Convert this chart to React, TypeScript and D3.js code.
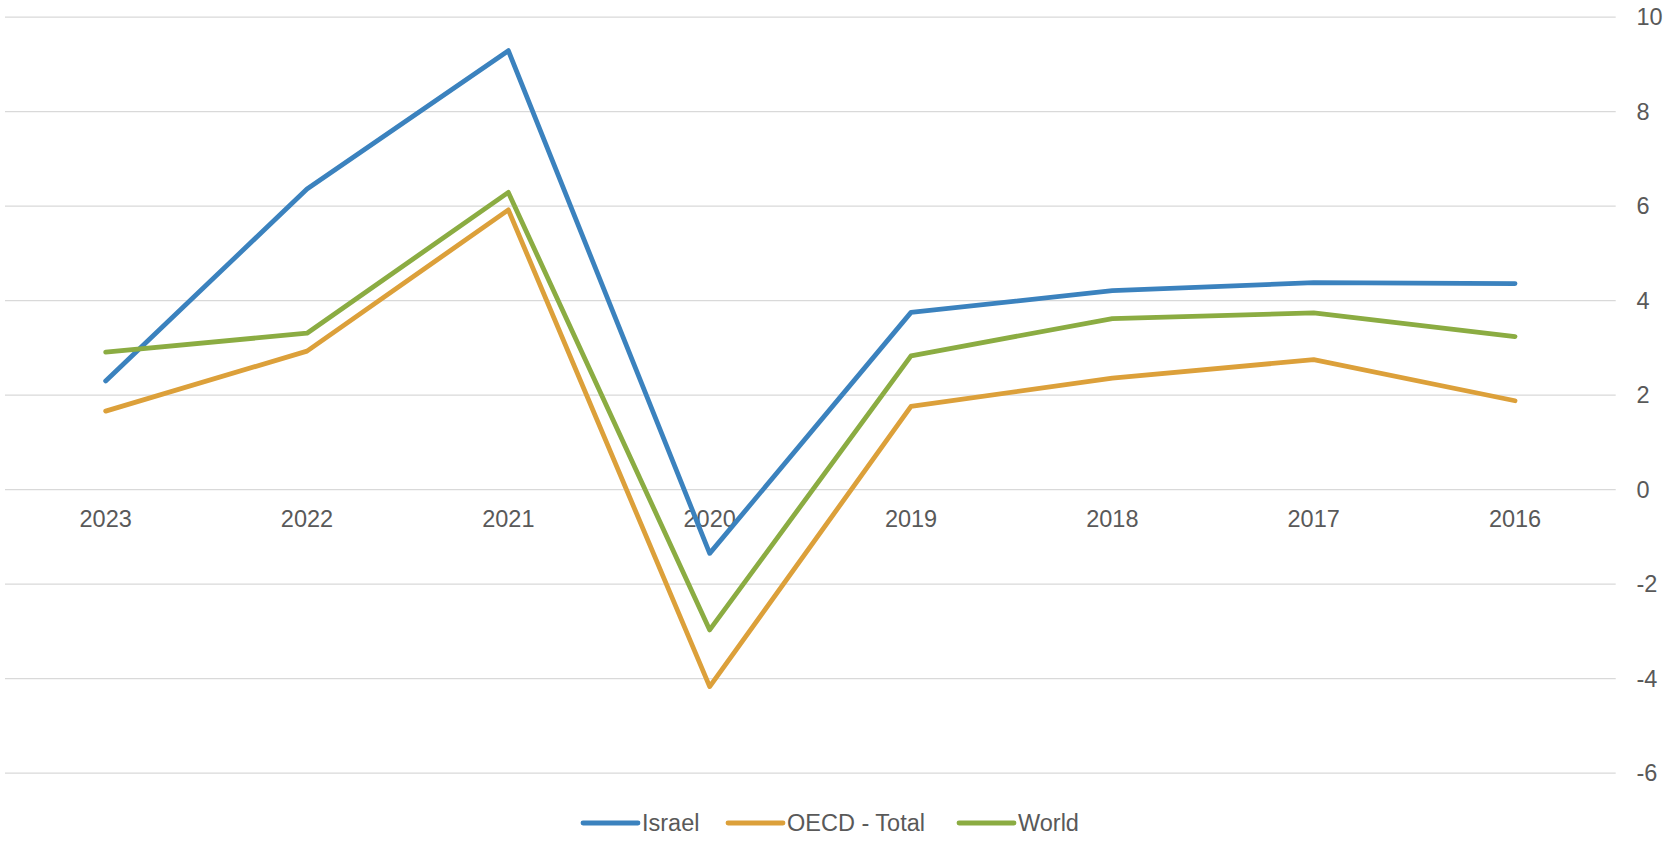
import React from "react";
import * as d3 from "d3";

// values
const years = ["2023", "2022", "2021", "2020", "2019", "2018", "2017", "2016"];
const israel = [2.3, 6.36, 9.29, -1.35, 3.75, 4.21, 4.38, 4.36];
const oecd = [1.66, 2.93, 5.92, -4.17, 1.76, 2.36, 2.75, 1.88];
const world = [2.91, 3.31, 6.29, -2.97, 2.83, 3.62, 3.74, 3.24];
const yTicks = [-6, -4, -2, 0, 2, 4, 6, 8, 10];

const seriesNames = ["Israel", "OECD - Total", "World"];
const seriesColors = ["#3b82be", "#dca03a", "#8bac42"];

const width = 1672;
const height = 841;
const font = "'Liberation Sans', Arial, sans-serif";
const textColor = "#595959";
const fontSize = 23.5;

export default function App() {
	const series = [israel, oecd, world];

	const x = d3.scaleBand().domain(years).range([5, 1615.7]);
	const y = d3.scaleLinear().domain([-6, 10]).range([773.1, 17.1]);
	const cx = (yr: string) => (x(yr) as number) + x.bandwidth() / 2;

	const line = d3
		.line<number>()
		.x((d, i) => cx(years[i]))
		.y((d) => y(d));

	// legend positions
	const legendY = 823;
	const legendStarts = [583, 728, 959];

	return (
		<svg
			width={width}
			height={height}
			style={{ position: "absolute", left: 0, top: 0, background: "#fff" }}
		>
			<g>
				{yTicks.map((t) => (
					<g key={t}>
						<line
							x1={5}
							x2={1615.7}
							y1={y(t)}
							y2={y(t)}
							stroke="#d9d9d9"
							strokeWidth={1.3}
						/>
						<text
							x={1636.5}
							y={y(t)}
							dy="0.35em"
							fill={textColor}
							style={{ fontFamily: font, fontSize }}
						>
							{t}
						</text>
					</g>
				))}
			</g>
			<g>
				{years.map((yr) => (
					<text
						key={yr}
						x={cx(yr)}
						y={527}
						textAnchor="middle"
						fill={textColor}
						style={{ fontFamily: font, fontSize }}
					>
						{yr}
					</text>
				))}
			</g>
			<g>
				{series.map((s, i) => (
					<path
						key={i}
						d={line(s) || ""}
						fill="none"
						stroke={seriesColors[i]}
						strokeWidth={4.8}
						strokeLinecap="round"
						strokeLinejoin="round"
					/>
				))}
			</g>
			<g>
				{seriesNames.map((name, i) => (
					<g key={name}>
						<line
							x1={legendStarts[i]}
							x2={legendStarts[i] + 55}
							y1={legendY}
							y2={legendY}
							stroke={seriesColors[i]}
							strokeWidth={4.8}
							strokeLinecap="round"
						/>
						<text
							x={legendStarts[i] + 59}
							y={legendY}
							dy="0.35em"
							fill={textColor}
							style={{ fontFamily: font, fontSize }}
						>
							{name}
						</text>
					</g>
				))}
			</g>
		</svg>
	);
}
